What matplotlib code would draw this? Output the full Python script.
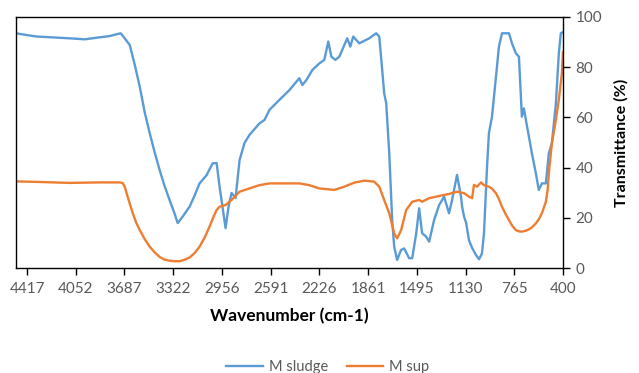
import numpy as np
import matplotlib.pyplot as plt

plt.rcParams['font.family'] = ['Lato', 'DejaVu Sans']
plt.rcParams.update({
    'axes.linewidth': 1.0,
    'xtick.labelsize': 11,
    'ytick.labelsize': 11,
})

# M sludge 曲线 (波数, 透过率)
sludge_wn = [4500, 4420, 4343, 4200, 4100, 3984, 3872, 3797, 3740, 3715, 3685, 3647,
             3610, 3572, 3535, 3498, 3460, 3423, 3385, 3348, 3310, 3288, 3250, 3198,
             3160, 3124, 3071, 3026, 2996, 2974, 2952, 2929, 2907, 2884,
             2854, 2824, 2787, 2750, 2675, 2637, 2600, 2525, 2450, 2376, 2353, 2323,
             2278, 2226, 2189, 2159, 2136, 2106, 2076, 2039, 2017, 1994, 1972, 1927,
             1852, 1800, 1777, 1755, 1740, 1725, 1702, 1680, 1665, 1643, 1613, 1590,
             1553, 1530, 1500, 1478, 1456, 1426, 1403, 1366, 1328, 1291, 1254, 1231,
             1194, 1164, 1156, 1141, 1126, 1104, 1081, 1052, 1029, 1007, 992, 969,
             955, 932, 902, 880, 857, 805, 782, 753, 730, 708, 693, 678, 655, 633,
             603, 581, 558, 528, 506, 483, 453, 431, 416, 400]
sludge_t = [93.5, 92.8, 92.2, 91.8, 91.5, 91.1, 91.9, 92.4, 93.2, 93.5, 91.5, 88.8,
            81.0, 72.2, 62.0, 53.8, 46.0, 39.0, 32.5, 27.0, 21.5, 17.9, 20.5, 24.5,
            29.0, 33.7, 37.0, 41.7, 41.8, 32.4, 24.4, 15.9, 24.3, 29.9,
            27.9, 43.0, 49.8, 53.0, 57.6, 59.0, 63.0, 67.0, 70.9, 75.6, 72.9, 74.9,
            78.9, 81.5, 82.9, 90.2, 84.2, 82.9, 84.2, 88.8, 91.5, 88.2, 92.2, 89.5,
            91.5, 93.5, 92.2, 78.9, 69.6, 65.7, 45.7, 19.0, 8.5, 3.2, 7.2, 7.8,
            3.9, 3.9, 13.8, 23.8, 13.9, 12.5, 10.5, 19.1, 25.1, 28.4, 21.8, 27.1,
            37.1, 28.4, 24.4, 20.4, 18.0, 11.0, 8.0, 5.2, 3.5, 5.8, 13.8, 40.4,
            53.7, 60.3, 76.2, 88.2, 93.5, 93.5, 89.5, 85.5, 84.2, 60.3, 63.6, 59.0, 52.3, 45.7,
            37.7, 31.1, 33.7, 33.7, 45.7, 49.7, 65.6, 85.5, 93.5, 94.0]

# M sup 曲线
sup_wn = [4500, 4343, 4096, 3872, 3722, 3700, 3685, 3655, 3625, 3600, 3572, 3535,
          3498, 3460, 3423, 3385, 3348, 3310, 3273, 3235, 3198, 3160, 3124, 3085,
          3049, 3020, 2996, 2974, 2929, 2884, 2824, 2750, 2675, 2600, 2450,
          2376, 2301, 2226, 2114, 2039, 1964, 1889, 1815, 1777, 1740, 1702, 1665,
          1643, 1613, 1575, 1530, 1478, 1456, 1403, 1328, 1254, 1194, 1141, 1104,
          1081, 1067, 1044, 1014, 992, 955, 930, 902, 880, 857, 830, 805, 780, 753,
          730, 708, 680, 655, 630, 603, 580, 558, 528, 515, 506, 483, 453, 431, 408, 400]
sup_t = [34.5, 34.3, 33.9, 34.1, 34.1, 33.8, 32.4, 27.0, 21.9, 18.2, 15.1, 11.5,
         8.5, 6.2, 4.4, 3.3, 2.9, 2.7, 2.7, 3.3, 4.2, 6.0, 8.5, 12.2,
         16.5, 20.3, 23.1, 24.4, 25.1, 27.1, 30.4, 31.7, 33.0, 33.7, 33.7,
         33.7, 33.0, 31.7, 31.1, 32.4, 34.0, 34.8, 34.4, 32.4, 27.1, 21.8, 13.8,
         11.8, 15.1, 23.1, 26.4, 27.1, 26.4, 27.8, 28.7, 29.5, 30.4, 29.8, 28.4,
         27.8, 33.1, 32.4, 34.1, 33.0, 32.4, 31.5, 29.8, 27.5, 24.4, 21.5, 19.1, 16.8, 15.1,
         14.6, 14.5, 14.8, 15.4, 16.3, 17.8, 19.5, 21.8, 26.4, 31.0, 37.7, 49.7, 59.0, 67.0, 77.6, 86.0]

xtick_vals = [4417, 4052, 3687, 3322, 2956, 2591, 2226, 1861, 1495, 1130, 765, 400]
xtick_labels = [str(v) for v in xtick_vals]

fig = plt.figure(figsize=(6.39, 3.73), dpi=100)
ax = fig.add_axes([0.025, 0.2815, 0.856, 0.673])

ax.plot(sludge_wn, sludge_t, color='#5B9BD5', lw=1.7, label='M sludge')
ax.plot(sup_wn, sup_t, color='#ED7D31', lw=1.7, label='M sup')

ax.set_xlim(4500, 400)
ax.set_ylim(0, 100)
ax.set_xticks(xtick_vals)
ax.set_xticklabels(xtick_labels)
ax.set_yticks(range(0, 101, 20))

ax.yaxis.tick_right()
ax.yaxis.set_label_position('right')
ax.tick_params(axis='x', direction='out', length=5, width=1, colors='black',
               labelcolor='#595959', pad=5)
ax.tick_params(axis='y', direction='out', length=5, width=1, colors='black',
               labelcolor='#595959', pad=4)

ax.set_xlabel('Wavenumber (cm-1)', fontsize=12.5, fontweight='bold', labelpad=9)
ax.set_ylabel('Transmittance (%)', fontsize=11.5, fontweight='bold', labelpad=9)

leg = ax.legend(loc='center', bbox_to_anchor=(0.57, -0.393), ncol=2, frameon=False,
                fontsize=10.5, handlelength=2.5, handletextpad=0.4, columnspacing=1.3)
for t in leg.get_texts():
    t.set_color('#595959')

fig.savefig('out.png', dpi=100)
